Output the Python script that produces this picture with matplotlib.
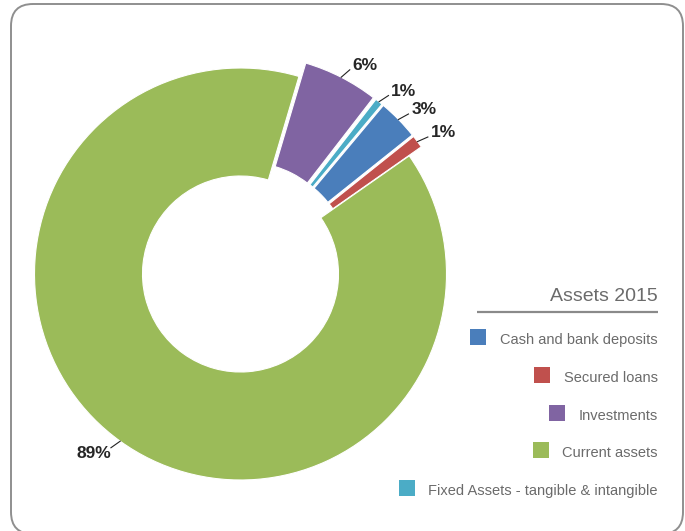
import matplotlib
matplotlib.use("Agg")
import numpy as np
import matplotlib.pyplot as plt
from matplotlib.patches import FancyBboxPatch, Rectangle

# ----------------------
# data (legend order)
# ----------------------
labels = ["Cash and bank deposits", "Secured loans", "Investments",
          "Current assets", "Fixed Assets - tangible & intangible"]
values = [3.2, 1.0, 5.9, 89.3, 0.6]
colors = ["#4a7ebb", "#c0504d", "#8064a2", "#9bbb59", "#4bacc6"]
title = "Assets 2015"

# slices go round counter-clockwise starting with secured loans
ring_order = [1, 0, 4, 2, 3]
pulled_out = [True, True, True, False, True]

FONT = ["Liberation Sans", "DejaVu Sans"]

W, H = 685, 531
cx, cy, R = 240.5, 257.0, 206.0   # ring centre / radius in pixels
hole = 98.0


def at(x, y_img):
    # pixel position (y measured from the top) -> axes data units
    return (x - cx) / R, (H - y_img - cy) / R


fig = plt.figure(figsize=(W / 100, H / 100), dpi=100)
ax = fig.add_axes([0, 0, 1, 1])

vals = [values[i] for i in ring_order]
cols = [colors[i] for i in ring_order]
expl = [0.073 if pulled_out[i] else 0.0 for i in ring_order]

wedges, _ = ax.pie(vals, colors=cols, explode=expl, startangle=35,
                   counterclock=True, radius=1.0,
                   wedgeprops=dict(width=(R - hole) / R, edgecolor="white",
                                   linewidth=0.8))

ax.set_xlim(-cx / R, (W - cx) / R)
ax.set_ylim(-cy / R, (H - cy) / R)
ax.set_aspect("equal")
ax.axis("off")

# percentage labels with short leader lines, bent a bit toward horizontal
for w, v in zip(wedges, vals):
    mid_deg = (w.theta1 + w.theta2) / 2 % 360
    mid = np.deg2rad(mid_deg)
    c, s = np.cos(mid), np.sin(mid)
    x0, y0 = w.center
    sx, sy = x0 + w.r * c, y0 + w.r * s
    if c >= 0:
        lead = mid_deg * 0.65 if mid_deg < 180 else 360 - (360 - mid_deg) * 0.65
    else:
        lead = 180 + (mid_deg - 180) * 0.65
    lr = np.deg2rad(lead)
    ex, ey = sx + 0.055 * np.cos(lr), sy + 0.055 * np.sin(lr)
    ax.plot([sx, ex], [sy, ey], color="#222222", lw=0.8)
    if c >= 0:
        ax.annotate(f"{round(v)}%", (ex, ey), xytext=(2, 3),
                    textcoords="offset points", ha="left", va="center",
                    fontsize=12.5, fontweight="bold", family=FONT,
                    color="#262626")
    else:
        ax.annotate(f"{round(v)}%", (ex, ey), xytext=(0, -4.5),
                    textcoords="offset points", ha="right", va="center",
                    fontsize=12.5, fontweight="bold", family=FONT,
                    color="#262626")

# rounded frame
fx, fy = at(11, 534)
fx2, fy2 = at(683, 4)
frame = FancyBboxPatch((fx, fy), fx2 - fx, fy2 - fy,
                       boxstyle=f"round,pad=0,rounding_size={22 / R}",
                       facecolor="none", edgecolor="#8f8f8f", lw=1.4,
                       clip_on=False)
ax.add_patch(frame)

# legend block on the right
right = 658
tx, ty = at(right, 301)
ax.text(tx, ty, title, ha="right", va="baseline", fontsize=14,
        family=FONT, color="#6b6b6b")
lx0, ly = at(477, 312)
lx1, _ = at(right, 312)
ax.plot([lx0, lx1], [ly, ly], color="#8a8a8a", lw=1.6, solid_capstyle="butt")

fig.canvas.draw()
rend = fig.canvas.get_renderer()
row_gap = 37.75
box = 16
for k, lab in enumerate(labels):
    base = 344 + k * row_gap
    bx, by = at(right, base)
    t = ax.text(bx, by, lab, ha="right", va="baseline", fontsize=10.5,
                family=FONT, color="#6b6b6b")
    bb = t.get_window_extent(rend)
    left_px = bb.x0 - 14 - box
    sx, sy = at(left_px, base + 1)
    ax.add_patch(Rectangle((sx, sy), box / R, box / R, facecolor=colors[k],
                           edgecolor="none"))

fig.savefig("out.png", dpi=100)
